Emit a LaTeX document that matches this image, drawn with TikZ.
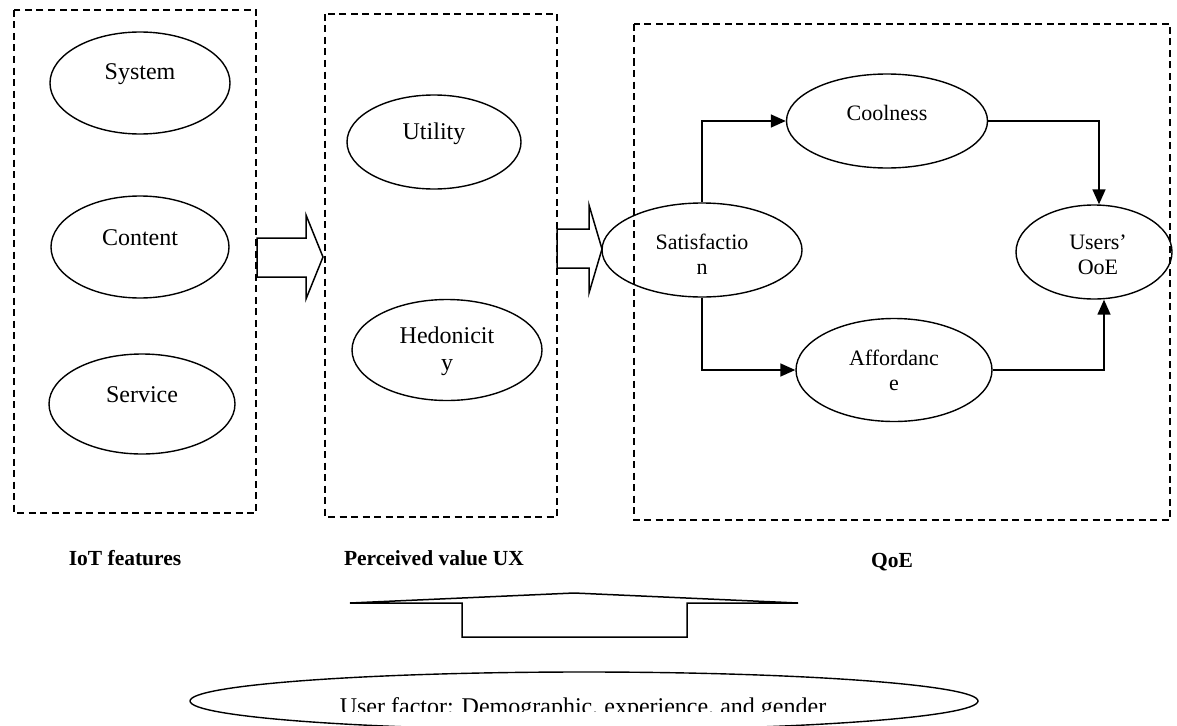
\documentclass[tikz,border=0pt]{standalone}
\usepackage{fontspec}
\setmainfont{Liberation Serif}
\usetikzlibrary{arrows.meta,shapes.geometric}

\begin{document}
\begin{tikzpicture}[x=1pt,y=-1pt,
  oval/.style={draw, ellipse, line width=1.4pt, inner sep=0pt},
  frame/.style={draw, line width=1.6pt, dash pattern=on 7pt off 4.5pt},
  blk/.style={draw, line width=1.5pt, line join=miter},
  conn/.style={draw, line width=1.6pt, -{Triangle[length=15pt,width=13pt]}},
  lbl/.style={font=\fontsize{24}{27}\selectfont, align=center, inner sep=0pt},
  lbr/.style={font=\fontsize{22}{25}\selectfont, align=center, inner sep=0pt},
  grpcap/.style={font=\fontsize{21.5}{24}\selectfont\bfseries, inner sep=0pt},
]
\useasboundingbox (0,0) rectangle (1177,725);

% dashed group frames
\draw[frame] (14,10) rectangle (256,513);
\draw[frame] (325,14) rectangle (557,517);
\draw[frame] (634,24) rectangle (1170,520);

% IoT features
\node[oval, minimum width=180, minimum height=102,
      label={[lbl,yshift=9pt]center:System}] (sys) at (140,83) {};
\node[oval, minimum width=178, minimum height=102,
      label={[lbl,yshift=9pt]center:Content}] (con) at (140,247) {};
\node[oval, minimum width=186, minimum height=100,
      label={[lbl,yshift=9pt]center:Service}] (srv) at (142,404) {};

% perceived value
\node[oval, minimum width=174, minimum height=94,
      label={[lbl,yshift=8pt]center:Utility}] (uti) at (434,142) {};
\node[oval, minimum width=190, minimum height=101,
      label={[lbl,yshift=-1pt]center:Hedonicit\\y}] (hed) at (447,350) {};

% QoE
\node[oval, minimum width=200, minimum height=94,
      label={[lbr,yshift=-4pt]center:Satisfactio\\n}] (sat) at (702,250) {};
\node[oval, minimum width=201, minimum height=94,
      label={[lbr,yshift=8pt]center:Coolness}] (cool) at (887,121) {};
\node[oval, minimum width=196, minimum height=103,
      label={[lbr,yshift=0pt]center:Affordanc\\e}] (aff) at (894,370) {};
\node[oval, minimum width=156, minimum height=94,
      label={[lbr,yshift=-3pt,xshift=4pt]center:Users'\\OoE}] (ooe) at (1094,252) {};

% block arrows between the groups
\draw[blk] (257,238) -- (306,238) -- (306,215) -- (323,257) -- (306,299)
           -- (306,277) -- (257,277) -- cycle;
\draw[blk] (557,229) -- (589,229) -- (589,205) -- (602,249) -- (589,293)
           -- (589,268) -- (557,268) -- cycle;

% paths inside QoE
\draw[conn] (sat.north) |- (cool.west);
\draw[conn] (sat.south) |- (aff.west);
\draw[conn] (cool.east) -| ([xshift=5pt]ooe.north);
\draw[conn] (aff.east) -| ([xshift=10pt]ooe.south);

% group captions
\node[grpcap] (c1) at (125,558) {IoT features};
\node[grpcap] (c2) at (434,558) {Perceived value UX};
\node[grpcap] (c3) at (892,562) {QoE};

% upward block arrow from the user factor
\draw[blk] (462,637) -- (462,603) -- (350,603) -- (574,593) -- (798,603)
           -- (687,603) -- (687,637) -- cycle;

% user factor
\node[oval, minimum width=788, minimum height=58] (uf) at (584,701) {};
\begin{scope}
  \clip (0,0) rectangle (1177,711.5);
  \node[lbl, anchor=base] (uft) at (583,714)
    {User factor: Demographic, experience, and gender};
\end{scope}
\end{tikzpicture}
\end{document}
